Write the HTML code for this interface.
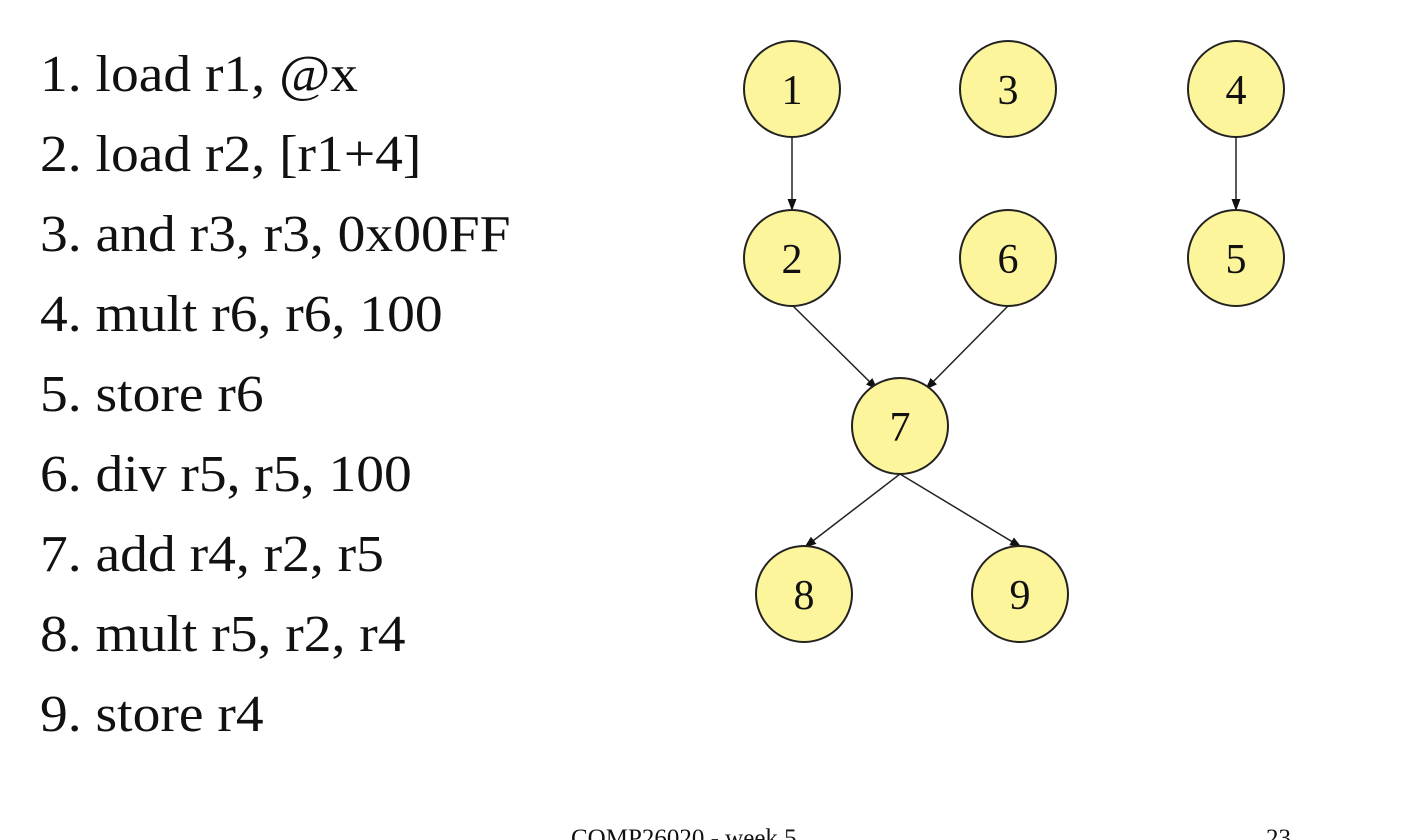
<!DOCTYPE html>
<html><head><style>
body{margin:0;width:1416px;height:840px;overflow:hidden;background:#fff;font-family:"Liberation Serif",serif;}
.l{position:absolute;left:40px;font-size:52px;line-height:1;color:#111;white-space:nowrap;transform:scaleX(1.068);transform-origin:0 0}
</style></head><body>
<div class="l" style="top:49px">1. load r1, @x</div>
<div class="l" style="top:129px">2. load r2, [r1+4]</div>
<div class="l" style="top:209px">3. and r3, r3, 0x00FF</div>
<div class="l" style="top:289px">4. mult r6, r6, 100</div>
<div class="l" style="top:369px">5. store r6</div>
<div class="l" style="top:449px">6. div r5, r5, 100</div>
<div class="l" style="top:529px">7. add r4, r2, r5</div>
<div class="l" style="top:609px">8. mult r5, r2, r4</div>
<div class="l" style="top:689px">9. store r4</div>
<svg width="1416" height="840" style="position:absolute;left:0;top:0">
<defs><marker id="a" markerWidth="12" markerHeight="12" refX="11" refY="6" orient="auto" markerUnits="userSpaceOnUse"><path d="M0,1.5 L12,6 L0,10.5 z" fill="#111"/></marker></defs>
<g stroke="#222" stroke-width="1.5" marker-end="url(#a)">
<line x1="792" y1="137" x2="792" y2="210"/>
<line x1="1236" y1="137" x2="1236" y2="210"/>
<line x1="793" y1="306" x2="877" y2="389"/>
<line x1="1008" y1="306" x2="926" y2="389"/>
<line x1="900" y1="474" x2="805" y2="547"/>
<line x1="900" y1="474" x2="1021" y2="547"/>
</g>
<g fill="#fdf59b" stroke="#222" stroke-width="2">
<circle cx="792" cy="89" r="48"/><circle cx="1008" cy="89" r="48"/><circle cx="1236" cy="89" r="48"/>
<circle cx="792" cy="258" r="48"/><circle cx="1008" cy="258" r="48"/><circle cx="1236" cy="258" r="48"/>
<circle cx="900" cy="426" r="48"/><circle cx="804" cy="594" r="48"/><circle cx="1020" cy="594" r="48"/>
</g>
<g font-family="Liberation Serif,serif" font-size="42" text-anchor="middle" fill="#111">
<text x="792" y="104">1</text><text x="1008" y="104">3</text><text x="1236" y="104">4</text>
<text x="792" y="273">2</text><text x="1008" y="273">6</text><text x="1236" y="273">5</text>
<text x="900" y="441">7</text><text x="804" y="609">8</text><text x="1020" y="609">9</text>
</g>
<g font-family="Liberation Serif,serif" font-size="25" fill="#111">
<text x="571" y="846">COMP26020 - week 5</text><text x="1266" y="846">23</text>
</g>
</svg>
</body></html>
